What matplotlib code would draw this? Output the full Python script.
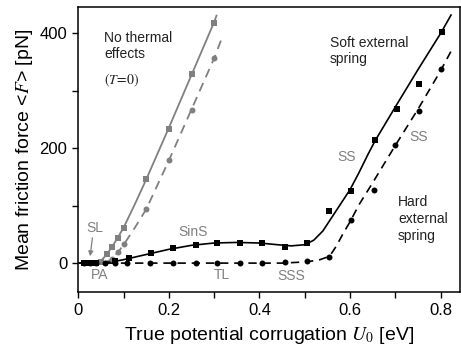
import matplotlib
matplotlib.use("Agg")
import matplotlib.pyplot as plt
from matplotlib.ticker import MultipleLocator

plt.rcParams['font.family'] = ['Liberation Sans', 'DejaVu Sans']
plt.rcParams['mathtext.fontset'] = 'stix'

GRAY = '#808080'

# no thermal effects (T=0), soft spring (squares) and hard spring (circles)
u_t0_soft = [0.05, 0.0625, 0.075, 0.0875, 0.1, 0.15, 0.2, 0.25, 0.3]
f_t0_soft = [2, 16, 28, 44, 62, 146, 233, 330, 419]
u_t0_hard = [0.075, 0.0875, 0.1, 0.15, 0.2, 0.25, 0.3]
f_t0_hard = [8, 20, 33, 94, 179, 266, 357]

# thermal, soft external spring
u_soft = [0.012, 0.026, 0.04, 0.081, 0.111, 0.161, 0.208, 0.259, 0.307, 0.357,
          0.406, 0.456, 0.505, 0.554, 0.603, 0.656, 0.703, 0.752, 0.802]
f_soft = [0, 0, 0, 3.5, 9, 17.5, 26, 32, 35.6, 35.6,
          35.6, 28, 35.6, 91, 125, 214, 268, 312, 402]

# thermal, hard external spring
u_hard = [0.012, 0.026, 0.04, 0.059, 0.081, 0.108, 0.159, 0.208, 0.259, 0.307,
          0.357, 0.406, 0.456, 0.505, 0.554, 0.603, 0.652, 0.70, 0.753, 0.80]
f_hard = [0, 0, 0, 0, 0, 0, 0, 0, 0, 0,
          0, 0, 2, 4, 10, 75, 127, 206, 265, 338]

# guide-to-the-eye curves
u_t0_soft_fit = [0.035, 0.05, 0.0625, 0.075, 0.0875, 0.1, 0.125, 0.15, 0.2, 0.25, 0.3, 0.305]
f_t0_soft_fit = [0, 4, 15, 29, 45, 62, 103, 146, 236, 328, 420, 431]
u_t0_hard_fit = [0.055, 0.07, 0.0875, 0.1, 0.125, 0.15, 0.2, 0.25, 0.3, 0.316]
f_t0_hard_fit = [0, 5, 19, 32, 62, 94, 179, 268, 357, 390]
u_soft_fit = [0, 0.05, 0.08, 0.1, 0.15, 0.2, 0.25, 0.3, 0.35, 0.4, 0.44, 0.47, 0.5,
              0.52, 0.54, 0.56, 0.58, 0.6, 0.62, 0.64, 0.656, 0.7, 0.75, 0.8, 0.823]
f_soft_fit = [0, 0, 3, 6, 15, 24, 31, 35, 36, 35, 32, 30, 32,
              40, 56, 80, 104, 128, 158, 190, 214, 272, 337, 400, 432]
u_hard_fit = [0, 0.45, 0.5, 0.53, 0.555, 0.57, 0.585, 0.6, 0.62, 0.65, 0.7, 0.75, 0.8, 0.825]
f_hard_fit = [0, 0, 2, 5, 12, 30, 52, 72, 102, 140, 205, 268, 335, 372]

fig = plt.figure(figsize=(4.61, 3.52), dpi=100)
ax = fig.add_axes([0.170, 0.171, 0.828, 0.809])

dash = (0, (5, 3.5))
ax.plot(u_t0_soft_fit, f_t0_soft_fit, color=GRAY, lw=1.3)
ax.plot(u_t0_hard_fit, f_t0_hard_fit, color=GRAY, lw=1.3, linestyle=dash)
ax.plot(u_soft_fit, f_soft_fit, color='black', lw=1.2)
ax.plot(u_hard_fit, f_hard_fit, color='black', lw=1.2, linestyle=dash)

ax.plot(u_t0_soft, f_t0_soft, 's', color=GRAY, ms=3.8, mew=0)
ax.plot(u_t0_hard, f_t0_hard, 'o', color=GRAY, ms=4.3, mew=0)
ax.plot(u_soft, f_soft, 's', color='black', ms=3.8, mew=0)
ax.plot(u_hard, f_hard, 'o', color='black', ms=4.3, mew=0)

ax.set_xlim(0, 0.843)
ax.set_ylim(-50, 446)
ax.xaxis.set_major_locator(MultipleLocator(0.2))
ax.xaxis.set_minor_locator(MultipleLocator(0.1))
ax.yaxis.set_major_locator(MultipleLocator(200))
ax.yaxis.set_minor_locator(MultipleLocator(100))
ax.set_xticks([0, 0.2, 0.4, 0.6, 0.8])
ax.set_xticklabels(['0', '0.2', '0.4', '0.6', '0.8'])
ax.tick_params(which='both', direction='out', length=4, width=1, labelsize=12, pad=4)
for s in ax.spines.values():
    s.set_linewidth(1.1)

ax.set_xlabel(r'True potential corrugation $U_{\mathit{0}}$ [eV]', fontsize=14, labelpad=5)
ax.set_ylabel(r'Mean friction force <$F$> [pN]', fontsize=14, labelpad=3)

TXT = '#222222'
ax.text(0.057, 405, 'No thermal\neffects', fontsize=10, va='top', linespacing=1.25, color=TXT)
ax.text(0.057, 333, r'$(T\!=\!0)$', fontsize=10, va='top', color=TXT)
ax.text(0.556, 396, 'Soft external\nspring', fontsize=10, va='top', linespacing=1.25, color=TXT)
ax.text(0.706, 118, 'Hard\nexternal\nspring', fontsize=10, va='top', linespacing=1.25, color=TXT)

lab = dict(fontsize=10, color=GRAY, ha='center', va='center')
ax.text(0.593, 184, 'SS', **lab)
ax.text(0.752, 220, 'SS', **lab)
ax.text(0.253, 54, 'SinS', **lab)
ax.text(0.037, 62, 'SL', **lab)
ax.text(0.048, -21, 'PA', **lab)
ax.text(0.316, -21, 'TL', **lab)
ax.text(0.469, -22, 'SSS', **lab)
ax.annotate('', xy=(0.026, 12), xytext=(0.031, 44),
            arrowprops=dict(arrowstyle='-|>', color=GRAY, lw=0.9,
                            mutation_scale=7, shrinkA=0, shrinkB=0))

fig.savefig('out.png', dpi=100)
